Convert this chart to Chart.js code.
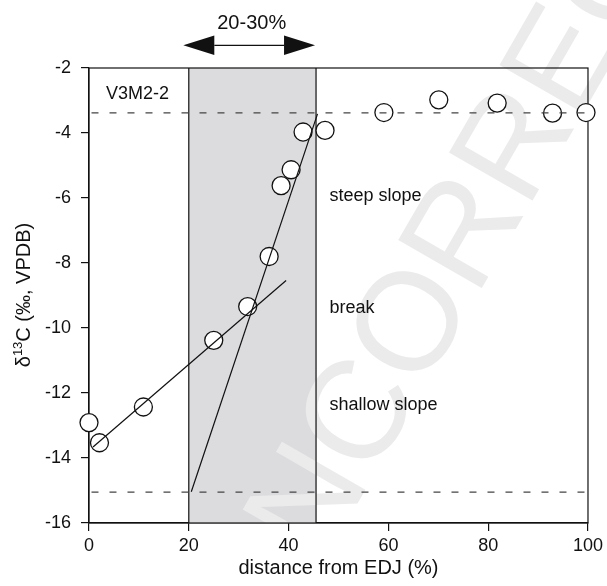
<!DOCTYPE html>
<html>
<head>
<meta charset="utf-8">
<script src="https://cdn.jsdelivr.net/npm/chart.js@4.4.1/dist/chart.umd.min.js"></script>
<style>
  html, body { margin: 0; padding: 0; background: #fff; }
  #wrap { width: 607px; height: 586px; position: relative; }
</style>
</head>
<body>
<div id="wrap"><canvas id="chart"></canvas></div>
<script>
// measured samples, V3M2-2
const distance = [0, 2.1, 10.9, 25, 31.8, 36.1, 38.5, 40.5, 42.9, 47.3, 59.1, 70.1, 81.8, 92.9, 99.6];
const d13C = [-12.91, -13.53, -12.43, -10.38, -9.34, -7.8, -5.62, -5.13, -3.97, -3.92, -3.37, -2.98, -3.08, -3.39, -3.37];

// fitted segments
const shallowX = [0.8, 39.5];
const shallowY = [-13.66, -8.54];
const steepX = [20.5, 45.8];
const steepY = [-15.04, -3.41];

// reference levels and transition band
const plateauLevel = -3.38;
const baseLevel = -15.05;
const levelX = [0.5, 99.8];
const bandX = [20, 45.5];
const arrowX = [18.9, 45.3];

const xTicks = [0, 20, 40, 60, 80, 100];
const yTicks = [-16, -14, -12, -10, -8, -6, -4, -2];

const FONT = '"Liberation Sans", Arial, Helvetica, sans-serif';
const INK = '#111';

const pts = (xs, ys) => xs.map((x, i) => ({ x, y: ys[i] }));

// shaded band, box, watermark (under the data)
const backdrop = {
  id: 'backdrop',
  beforeDatasetsDraw(chart) {
    const { ctx, chartArea: a, scales: { x } } = chart;
    const x1 = x.getPixelForValue(bandX[0]);
    const x2 = x.getPixelForValue(bandX[1]);
    ctx.save();
    ctx.fillStyle = '#dcdcdf';
    ctx.fillRect(x1, a.top, x2 - x1, a.bottom - a.top);

    // watermark, kept off the axis labels
    ctx.save();
    ctx.beginPath();
    ctx.rect(a.left + 1, 0, chart.width - a.left, a.bottom);
    ctx.clip();
    ctx.translate(270, 655);
    ctx.rotate(-60 * Math.PI / 180);
    ctx.fillStyle = '#ebebeb';
    ctx.font = '140px ' + FONT;
    ctx.textBaseline = 'alphabetic';
    ctx.fillText('UNCORRECTED', 0, 0);
    ctx.restore();

    ctx.strokeStyle = INK;
    ctx.lineWidth = 1.2;
    ctx.beginPath();
    ctx.moveTo(x1, a.top); ctx.lineTo(x1, a.bottom);
    ctx.moveTo(x2, a.top); ctx.lineTo(x2, a.bottom);
    ctx.stroke();
    ctx.strokeRect(a.left, a.top, a.right - a.left, a.bottom - a.top);
    ctx.restore();
  }
};

// arrow, labels, y title
const notes = {
  id: 'notes',
  afterDraw(chart) {
    const { ctx, scales: { x, y } } = chart;
    ctx.save();
    ctx.fillStyle = INK;
    ctx.strokeStyle = INK;

    // double arrow over the band
    const ax1 = x.getPixelForValue(arrowX[0]);
    const ax2 = x.getPixelForValue(arrowX[1]);
    const ay = 45.3;
    const head = 31, half = 9.7;
    ctx.lineWidth = 1.3;
    ctx.beginPath();
    ctx.moveTo(ax1 + head, ay); ctx.lineTo(ax2 - head, ay);
    ctx.stroke();
    ctx.beginPath();
    ctx.moveTo(ax1, ay); ctx.lineTo(ax1 + head, ay - half); ctx.lineTo(ax1 + head, ay + half); ctx.closePath();
    ctx.moveTo(ax2, ay); ctx.lineTo(ax2 - head, ay - half); ctx.lineTo(ax2 - head, ay + half); ctx.closePath();
    ctx.fill();

    ctx.font = '20px ' + FONT;
    ctx.textAlign = 'center';
    ctx.textBaseline = 'alphabetic';
    ctx.fillText('20-30%', 251.7, 28.5);

    ctx.font = '18px ' + FONT;
    ctx.textAlign = 'left';
    ctx.fillText('V3M2-2', 106, 98.5);
    ctx.fillText('steep slope', 329.5, 200.5);
    ctx.fillText('break', 329.5, 312.5);
    ctx.fillText('shallow slope', 329.5, 409.5);

    // y axis title with superscript
    ctx.translate(30, 295);
    ctx.rotate(-Math.PI / 2);
    const big = '20px ' + FONT, small = '13px ' + FONT;
    ctx.font = big; const w1 = ctx.measureText('\u03b4').width;
    ctx.font = small; const w2 = ctx.measureText('13').width;
    ctx.font = big; const w3 = ctx.measureText('C (\u2030, VPDB)').width;
    let cx = -(w1 + w2 + w3) / 2;
    ctx.font = big; ctx.fillText('\u03b4', cx, 0); cx += w1;
    ctx.font = small; ctx.fillText('13', cx, -8); cx += w2;
    ctx.font = big; ctx.fillText('C (\u2030, VPDB)', cx, 0);
    ctx.restore();
  }
};

const ctx = document.getElementById('chart').getContext('2d');
new Chart(ctx, {
  type: 'scatter',
  data: {
    datasets: [
      {
        label: 'samples',
        data: pts(distance, d13C),
        pointRadius: 9,
        pointBorderWidth: 1.3,
        pointBorderColor: INK,
        pointBackgroundColor: '#fff',
        clip: false,
        order: 2
      },
      {
        type: 'line',
        label: 'shallow',
        data: pts(shallowX, shallowY),
        borderColor: INK,
        borderWidth: 1.2,
        pointRadius: 0,
        order: 1
      },
      {
        type: 'line',
        label: 'steep',
        data: pts(steepX, steepY),
        borderColor: INK,
        borderWidth: 1.2,
        pointRadius: 0,
        order: 1
      },
      {
        type: 'line',
        label: 'plateau',
        data: pts(levelX, [plateauLevel, plateauLevel]),
        borderColor: '#444',
        borderWidth: 1.2,
        borderDash: [7, 11],
        pointRadius: 0,
        order: 1
      },
      {
        type: 'line',
        label: 'base',
        data: pts(levelX, [baseLevel, baseLevel]),
        borderColor: '#444',
        borderWidth: 1.2,
        borderDash: [7, 11],
        pointRadius: 0,
        order: 1
      }
    ]
  },
  options: {
    responsive: true,
    maintainAspectRatio: false,
    animation: false,
    layout: { padding: { top: 68, right: 18, bottom: 0, left: 0 } },
    plugins: {
      legend: { display: false },
      tooltip: { enabled: false }
    },
    scales: {
      x: {
        type: 'linear',
        min: 0,
        max: 100,
        afterBuildTicks: s => { s.ticks = xTicks.map(v => ({ value: v })); },
        ticks: { color: INK, font: { family: FONT, size: 18 }, padding: 4, maxRotation: 0 },
        grid: { drawOnChartArea: false, drawTicks: true, tickLength: 8, color: INK, lineWidth: 1.2 },
        border: { display: true, color: INK, width: 1.2 },
        title: {
          display: true,
          text: 'distance from EDJ (%)',
          color: INK,
          font: { family: FONT, size: 20 },
          padding: { top: 0, bottom: 6 }
        },
        afterFit: s => { s.height = 63; }
      },
      y: {
        type: 'linear',
        min: -16,
        max: -2,
        afterBuildTicks: s => { s.ticks = yTicks.map(v => ({ value: v })); },
        ticks: { color: INK, font: { family: FONT, size: 18 }, padding: 10 },
        grid: { drawOnChartArea: false, drawTicks: true, tickLength: 8, color: INK, lineWidth: 1.2 },
        border: { display: true, color: INK, width: 1.2 },
        afterFit: s => { s.width = 89; }
      }
    }
  },
  plugins: [backdrop, notes]
});
</script>
</body>
</html>
